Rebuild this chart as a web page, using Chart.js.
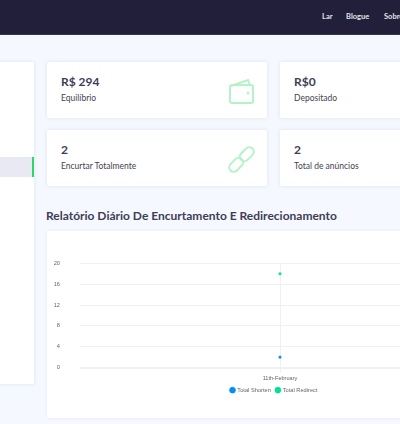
<!DOCTYPE html>
<html lang="pt">
<head>
<meta charset="utf-8">
<title>Painel</title>
<script src="https://cdn.jsdelivr.net/npm/chart.js@4"></script>
<style>
    html, body { margin: 0; padding: 0; width: 400px; height: 424px; overflow: hidden; }
    body { background: #f5f8ff; font-family: Lato, sans-serif; color: #3f3d56; position: relative; }
    .topo { position: absolute; left: 0; top: 0; width: 400px; height: 34px; background: #211f3a; border-bottom: 1px solid #3a3850; }
    .topo span { position: absolute; top: 12px; font-size: 7.5px; font-weight: 700; color: #e4e4ec; }
    .lateral { position: absolute; left: -20px; top: 62px; width: 54px; height: 322px; background: #fff; box-shadow: 0 0 4px rgba(60, 70, 110, .12); }
    .lateral div { position: absolute; left: 0; top: 95px; width: 52px; height: 20px; background: #e9e9f3; border-right: 2px solid #2fd667; }
    .caixa { position: absolute; width: 220px; height: 56px; background: #fff; border-radius: 2px; box-shadow: 0 0 4px rgba(60, 70, 110, .12); }
    .caixa b { position: absolute; left: 14px; top: 12px; font-size: 12px; line-height: 16px; color: #3f3d56; }
    .caixa span { position: absolute; left: 14px; top: 30px; font-size: 8.5px; line-height: 12px; color: #44424f; }
    .caixa svg { position: absolute; left: 181px; top: 16px; width: 27px; height: 27px; fill: none; stroke: #b4f3c8; stroke-width: 2; }
    h2 { position: absolute; left: 46px; top: 208px; margin: 0; font-size: 12px; line-height: 16px; font-weight: 700; color: #3f3d56; white-space: nowrap; }
    .grafico { position: absolute; left: 47px; top: 231px; width: 400px; height: 187px; background: #fff; box-shadow: 0 0 3px rgba(60, 70, 110, .1); }
    #graficoDiario { position: absolute; left: 47px; top: 240px; }
</style>
</head>
<body>
<div class="topo"><span style="left:322px">Lar</span><span style="left:346px">Blogue</span><span style="left:384px">Sobre</span></div>
<div class="lateral"><div></div></div>

<div class="caixa" style="left:47px;top:62px"><b>R$ 294</b><span>Equilíbrio</span>
    <svg viewBox="0 0 27 27"><path d="M3 8 L20 2 L22 7"/><rect x="2" y="7" width="23" height="18" rx="2"/><circle cx="20" cy="15" r=".6"/></svg></div>
<div class="caixa" style="left:280px;top:62px"><b>R$0</b><span>Depositado</span></div>
<div class="caixa" style="left:47px;top:130px"><b>2</b><span>Encurtar Totalmente</span>
    <svg viewBox="0 0 27 27"><g transform="rotate(-45 13.5 13.5)"><rect x="-2" y="9" width="16" height="9" rx="4.5"/><rect x="13" y="9" width="16" height="9" rx="4.5"/></g></svg></div>
<div class="caixa" style="left:280px;top:130px"><b>2</b><span>Total de anúncios</span></div>

<h2>Relatório Diário De Encurtamento E Redirecionamento</h2>
<div class="grafico"></div>
<canvas id="graficoDiario" width="454" height="170" style="width:454px;height:170px"></canvas>

<script>
// Datos del gráfico
const dias = ['11th-February'];
const totalShorten = [2];
const totalRedirect = [18];
const marcasY = [0, 4, 8, 12, 16, 20];

// La leyenda va un poco más arriba y a la derecha que donde la deja Chart.js
const moverLeyenda = {
    id: 'moverLeyenda',
    beforeDraw: function (chart) {
        chart.legend.left += 10.5;
        chart.legend.right += 10.5;
        chart.legend.top -= 3;
        chart.legend.bottom -= 3;
    }
};

document.addEventListener('DOMContentLoaded', function () {
    const ctx = document.getElementById('graficoDiario').getContext('2d');
    new Chart(ctx, {
        type: 'line',
        data: {
            labels: dias,
            datasets: [{
                label: 'Total Shorten',
                data: totalShorten,
                borderColor: '#008ffb',
                backgroundColor: '#008ffb',
                pointRadius: 1.1
            }, {
                label: 'Total Redirect',
                data: totalRedirect,
                borderColor: '#00e396',
                backgroundColor: '#00e396',
                pointRadius: 1.1
            }]
        },
        plugins: [moverLeyenda],
        options: {
            responsive: false,
            animation: false,
            layout: { padding: { left: 0, right: 21, top: 23, bottom: 4 } },
            scales: {
                x: {
                    offset: true,
                    grid: { color: '#f0f0f0', offset: false, drawTicks: true, tickLength: 5 },
                    border: { display: false },
                    ticks: { color: '#666', font: { family: 'Liberation Sans', size: 5.6 }, padding: 3 }
                },
                y: {
                    min: 0,
                    max: 20,
                    afterBuildTicks: function (axis) { axis.ticks = marcasY.map(v => ({ value: v })); },
                    afterFit: function (axis) { axis.width = 33; },
                    grid: {
                        color: '#f0f0f0',
                        drawTicks: false,
                        lineWidth: function (c) { return c.tick && c.tick.value === 0 ? 2 : 1; }
                    },
                    border: { display: false },
                    ticks: { color: '#666', font: { family: 'Liberation Sans', size: 5.7 }, padding: 20 }
                }
            },
            plugins: {
                legend: {
                    position: 'bottom',
                    labels: {
                        usePointStyle: true,
                        pointStyle: 'circle',
                        boxWidth: 4,
                        boxHeight: 4,
                        padding: 5,
                        color: '#666',
                        font: { family: 'Liberation Sans', size: 5.7 }
                    }
                },
                tooltip: { enabled: false }
            }
        }
    });
});
</script>
</body>
</html>
